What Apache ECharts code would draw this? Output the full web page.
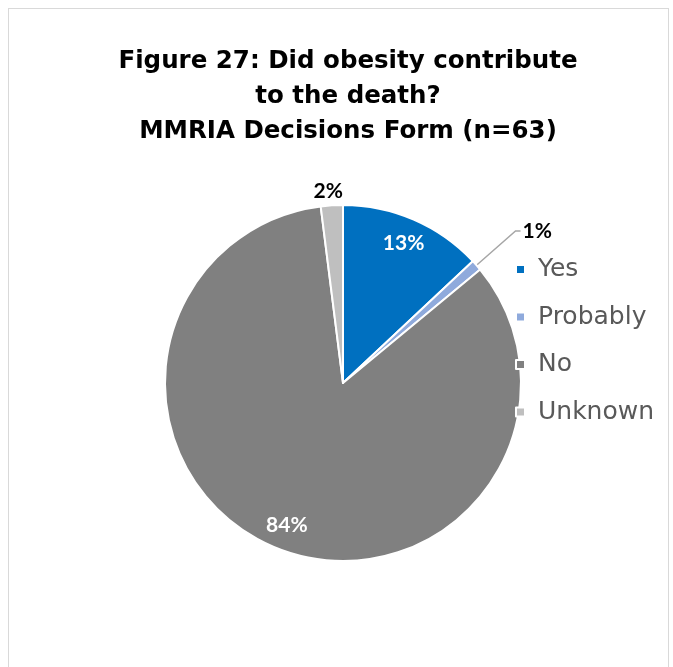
<!DOCTYPE html>
<html><head><meta charset="utf-8">
<script src="https://cdn.jsdelivr.net/npm/echarts@6/dist/echarts.min.js"></script>
<style>
html,body{margin:0;padding:0;background:#fff;}
#frame{position:absolute;left:8px;top:8px;width:659px;height:700px;border:1px solid #d9d9d9;}
#chart{position:absolute;left:0;top:0;width:673px;height:667px;}
</style></head>
<body><div id="frame"></div><div id="chart"></div>
<script>
const categories = ['Yes', 'Probably', 'No', 'Unknown'];
const percents = [13, 1, 84, 2];
const colors = ['#0070C0', '#8FAADC', '#808080', '#BFBFBF'];
const titleText = 'Figure 27: Did obesity contribute\nto the death?\nMMRIA Decisions Form (n=63)';

const chart = echarts.init(document.getElementById('chart'));
const center = [343, 383];
const R = 178;
const insideIdx = [0, 2];

const outerData = categories.map((c, i) => {
  const inside = insideIdx.includes(i);
  const d = {
    name: c, value: percents[i], itemStyle: { color: colors[i] },
    label: { show: !inside },
    labelLine: { show: !inside }
  };
  if (c === 'Unknown') {
    d.labelLine = { show: false, length: 14, length2: 0 };
    d.label = { show: true, distanceToLabelLine: -12 };
  }
  return d;
});

chart.setOption({
  backgroundColor: 'transparent',
  title: {
    text: titleText, top: 39, textAlign: 'center', left: 343,
    textStyle: { fontFamily: 'DejaVu Sans', fontWeight: 'bold', fontSize: 24.5, lineHeight: 35, color: '#000' }
  },
  legend: {
    orient: 'vertical', left: 515, top: 257, padding: 0, itemGap: 22.5, itemWidth: 9, itemHeight: 9,
    icon: 'rect', data: categories,
    textStyle: { fontFamily: 'DejaVu Sans', fontSize: 25, color: '#595959', padding: [0, 0, 0, 8] }
  },
  series: [{
    type: 'pie', center: center, radius: [0, R], startAngle: 90, clockwise: true,
    avoidLabelOverlap: false, silent: true,
    itemStyle: { borderColor: '#fff', borderWidth: 2 },
    label: { position: 'outside', formatter: '{c}%', fontFamily: 'Lato', fontWeight: 'bold', fontSize: 21, color: '#000', distanceToLabelLine: 2 },
    labelLine: { length: 52, length2: 5, lineStyle: { color: '#a6a6a6', width: 1.5 } },
    data: outerData
  }, {
    type: 'pie', center: center, radius: [R * 0.68, R], startAngle: 90, clockwise: true,
    silent: true, avoidLabelOverlap: false,
    itemStyle: { color: 'transparent', borderWidth: 0 },
    label: { position: 'inside', formatter: '{c}%', fontFamily: 'Lato', fontWeight: 'bold', fontSize: 21, color: '#fff' },
    labelLine: { show: false },
    data: categories.map((c, i) => ({ name: c + ' ', value: percents[i], label: { show: insideIdx.includes(i) } }))
  }]
});
</script></body></html>
